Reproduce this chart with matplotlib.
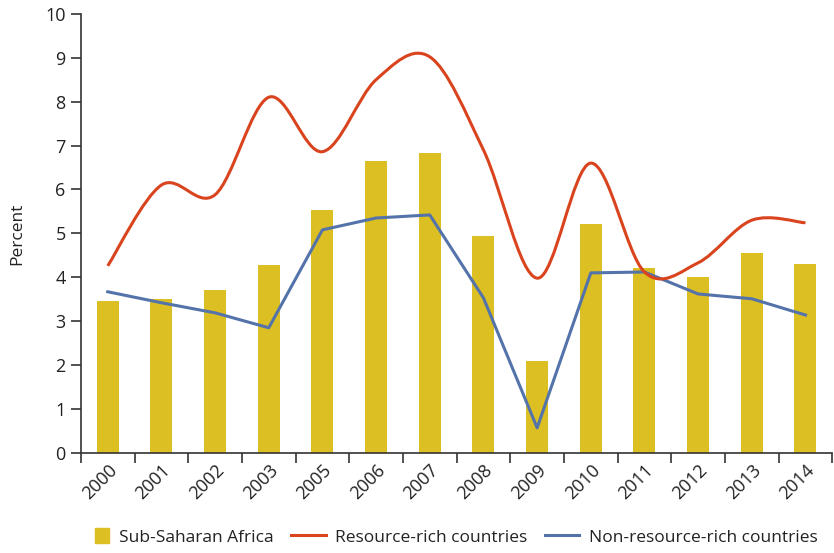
import numpy as np
import matplotlib.pyplot as plt
from matplotlib.path import Path
from matplotlib.patches import PathPatch, Rectangle
from matplotlib.lines import Line2D
from matplotlib.legend_handler import HandlerPatch

# Data
years = ['2000', '2001', '2002', '2003', '2005', '2006', '2007',
         '2008', '2009', '2010', '2011', '2012', '2013', '2014']
ssa = [3.46, 3.51, 3.71, 4.28, 5.53, 6.65, 6.83, 4.94, 2.10, 5.22, 4.21, 4.01, 4.56, 4.31]
resource_rich = [4.26, 6.1, 5.88, 8.1, 6.86, 8.5, 9.02, 6.9, 3.98, 6.6, 4.12, 4.33, 5.3, 5.24]
non_resource_rich = [3.67, 3.42, 3.19, 2.85, 5.08, 5.35, 5.42, 3.53, 0.57, 4.1, 4.12, 3.62, 3.51, 3.14]

bar_color = '#DCBF22'
red = '#D9441E'
blue = '#5373AA'
axis_color = '#333333'

plt.rcParams['font.family'] = ['Open Sans', 'DejaVu Sans']

fig = plt.figure(figsize=(8.34, 5.53), dpi=100)
ax = fig.add_axes([0.097, 0.181, 0.901, 0.794])

x = np.arange(len(years))
ax.bar(x, ssa, width=0.41, color=bar_color, zorder=1)

# smoothed line like Excel's "smoothed line" option (Bezier through points)
pts = np.column_stack([x, resource_rich]).astype(float)
verts = [tuple(pts[0])]
codes = [Path.MOVETO]
n = len(pts)
for i in range(n - 1):
    p0 = pts[max(i - 1, 0)]
    p1 = pts[i]
    p2 = pts[i + 1]
    p3 = pts[min(i + 2, n - 1)]
    c1 = p1 + (p2 - p0) / 6.0
    c2 = p2 - (p3 - p1) / 6.0
    verts += [tuple(c1), tuple(c2), tuple(p2)]
    codes += [Path.CURVE4] * 3
ax.add_patch(PathPatch(Path(verts, codes), facecolor='none', edgecolor=red,
                       lw=2.2, zorder=3))

ax.plot(x, non_resource_rich, color=blue, lw=2.2, zorder=2)

ax.set_xlim(-0.5, len(years) - 0.5)
ax.set_ylim(0, 10)
ax.set_yticks(range(0, 11))
ax.set_ylabel('Percent', fontsize=12.5, color='#222222', labelpad=14)

# tick marks at category boundaries, labels at centers
ax.set_xticks(np.arange(-0.5, len(years), 1.0))
ax.set_xticklabels([])
ax.set_xticks(x, minor=True)
ax.set_xticklabels(years, minor=True, rotation=45, ha='right',
                   rotation_mode='anchor', fontsize=13, color='#222222')
ax.tick_params(axis='x', which='minor', length=0, pad=6)
ax.tick_params(axis='x', which='major', length=7, width=1.2, color=axis_color)
ax.tick_params(axis='y', length=7, width=1.2, color=axis_color,
               labelsize=13, labelcolor='#222222', pad=4)

for side in ['top', 'right']:
    ax.spines[side].set_visible(False)
for side in ['left', 'bottom']:
    ax.spines[side].set_color(axis_color)
    ax.spines[side].set_linewidth(1.2)


# square legend key sitting at the right of its handle box
def square_key(legend, orig_handle, xdescent, ydescent, width, height, fontsize):
    s = 0.85 * fontsize
    return Rectangle((width - s - xdescent, -ydescent + (height - s) / 2), s, s)


handles = [
    Rectangle((0, 0), 1, 1, color=bar_color),
    Line2D([0], [0], color=red, lw=2.2),
    Line2D([0], [0], color=blue, lw=2.2),
]
labels = ['Sub-Saharan Africa', 'Resource-rich countries', 'Non-resource-rich countries']
fig.legend(handles, labels, loc='center', bbox_to_anchor=(0.535, 0.029), ncol=3,
           frameon=False, fontsize=12.5, handlelength=2.0, handleheight=0.9,
           columnspacing=1.0, handletextpad=0.55, labelcolor='#222222',
           handler_map={Rectangle: HandlerPatch(patch_func=square_key)})

fig.savefig('out.png', dpi=100)
